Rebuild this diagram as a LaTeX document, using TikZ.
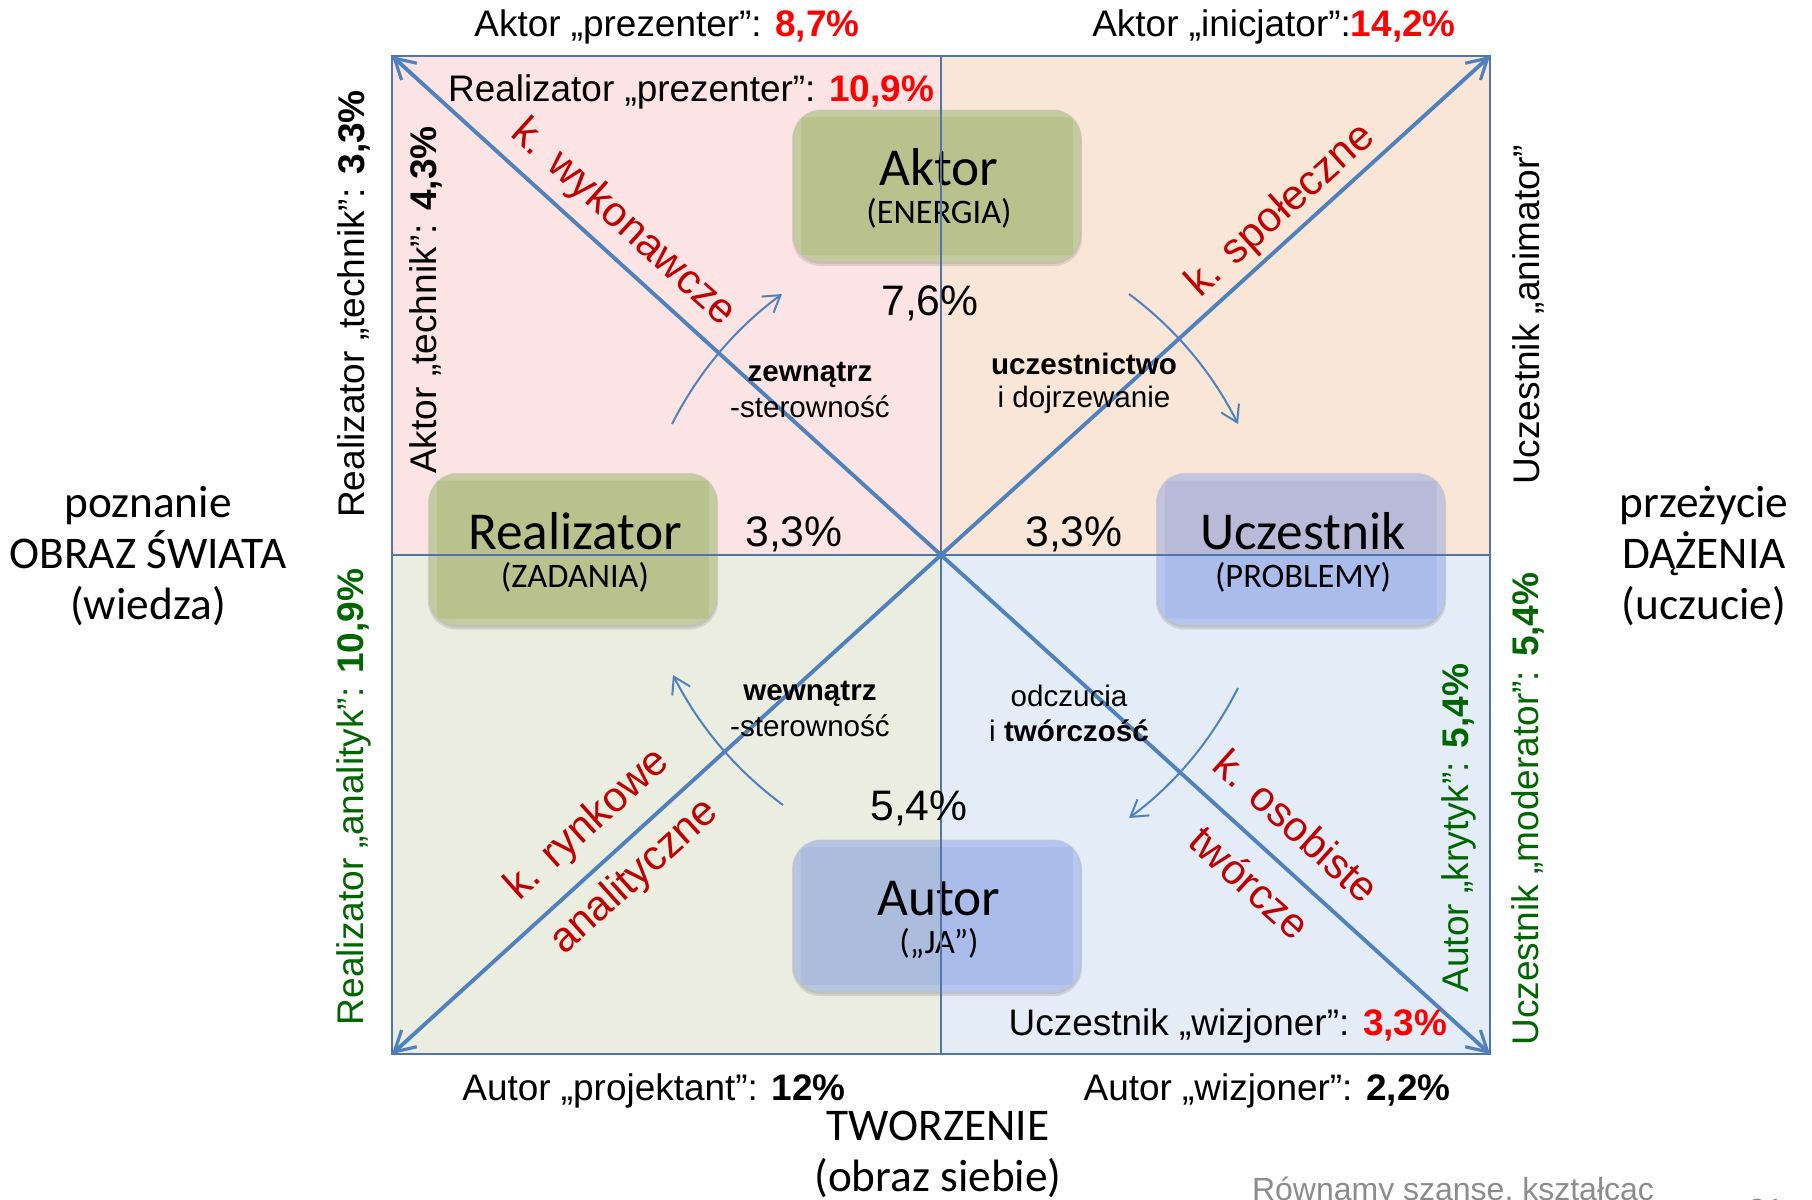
\documentclass[tikz,border=0pt]{standalone}
\usepackage{fontspec}
\setmainfont{Liberation Sans}
\newfontfamily\calfont{Carlito}
\usetikzlibrary{arrows.meta}
\definecolor{qTL}{HTML}{FDE4E4}
\definecolor{qTR}{HTML}{FAE6D7}
\definecolor{qBL}{HTML}{EAEDE0}
\definecolor{qBR}{HTML}{E4ECF7}
\definecolor{frameblue}{HTML}{4F76AA}
\definecolor{diagblue}{HTML}{4F81BD}
\definecolor{kred}{HTML}{C00000}
\definecolor{dgreen}{HTML}{006600}
\definecolor{grn}{HTML}{B9C28D}
\definecolor{blu}{HTML}{A9BCEC}
\definecolor{vio}{HTML}{B8BAD8}
\definecolor{slate}{HTML}{ACBCDC}
\newcommand{\fs}[1]{\fontsize{#1}{#1}\selectfont}
\newcommand{\nudge}{\hspace*{3pt}}
% backing of a box: soft shadow, colour fill, lighter rim; #1,#2 centre; #3 fills
\newcommand{\boxback}[3]{%
  \begin{scope}[shift={(#1,#2)}]
    \fill[black,opacity=0.10,rounded corners=21pt] (-145,-74) rectangle (145,80);
    \fill[black,opacity=0.08,rounded corners=21pt] (-144,-74) rectangle (144,78);
    \clip[rounded corners=21pt] (-144,-76) rectangle (144,76);
    #3
    \fill[white,opacity=0.16,even odd rule] (-150,-80) rectangle (150,80) (-136,-69) rectangle (136,69);
  \end{scope}}
\tikzset{
  x=0.75pt,y=-0.75pt,
  box/.style={rounded corners=21pt,minimum width=216pt,minimum height=114pt,inner sep=0pt,align=center,
    draw=black!25,draw opacity=0.35,line width=1pt,font=\calfont\fs{40}},
  hl/.style={inner sep=0pt,font=\fs{27.7}},
  vl/.style={inner sep=0pt,font=\fs{27.8},rotate=90},
  kl/.style={inner sep=0pt,font=\fs{31.5},text=kred},
  pct/.style={inner sep=0pt,font=\fs{32}},
  sm/.style={inner sep=0pt,font=\fs{22.2}},
  side/.style={inner sep=0pt,font=\calfont\fs{34}},
  frameline/.style={draw=frameblue,line width=1.5pt},
  diag/.style={draw=diagblue,line width=2.9pt,-{Straight Barb[length=15pt,width=17pt,line width=2.4pt]}},
  curve/.style={draw=diagblue,line width=1.5pt,-{Straight Barb[length=12pt,width=15pt,line width=1.5pt]}},
}
\begin{document}
\begin{tikzpicture}
\clip (0,0) rectangle (1812,1199);
\fill[white] (0,0) rectangle (1812,1199);
\coordinate (c) at (941,555);
\coordinate (tl) at (392,56);
\coordinate (tr) at (1490,56);
\coordinate (bl) at (392,1054);
\coordinate (br) at (1490,1054);
\coordinate (tm) at (941,56);
\coordinate (bm) at (941,1054);
\coordinate (lm) at (392,555);
\coordinate (rm) at (1490,555);
% quadrants
\fill[qTL] (tl) rectangle (c);
\fill[qTR] (tm) rectangle (rm);
\fill[qBL] (lm) rectangle (bm);
\fill[qBR] (c) rectangle (br);
% box backings
\boxback{937}{186}{\fill[grn] (-150,-80) rectangle (150,80);}
\boxback{573}{549.5}{\fill[grn] (-150,-80) rectangle (150,80);}
\boxback{1301}{549.5}{\fill[vio] (-150,-80) rectangle (150,5.5);\fill[blu] (-150,5.5) rectangle (150,80);}
\boxback{937}{916}{\fill[slate] (-150,-80) rectangle (4,80);\fill[blu] (4,-80) rectangle (150,80);}
% boxes
\node[box] (aktor) at (937,186) {\nudge\rule{0pt}{32pt}Aktor\\[-11.5pt]\nudge{\fs{25.8}(ENERGIA)}};
\node[box] (real) at (573,549.5) {\nudge\rule{0pt}{32pt}Realizator\\[-11.5pt]\nudge{\fs{25.8}(ZADANIA)}};
\node[box] (ucz) at (1301,549.5) {\nudge\rule{0pt}{32pt}Uczestnik\\[-11.5pt]\nudge{\fs{25.8}(PROBLEMY)}};
\node[box] (autor) at (937,916) {\nudge\rule{0pt}{32pt}Autor\\[-11.5pt]\nudge{\fs{25.8}(„JA”)}};
% frame and axes
\draw[frameline] (tl) rectangle (br);
\draw[frameblue,line width=1.1pt] (tm) -- (bm);
\draw[frameblue,line width=1.1pt] (lm) -- (rm);
\draw[diag] (c) -- (tl);
\draw[diag] (c) -- (tr);
\draw[diag] (c) -- (bl);
\draw[diag] (c) -- (br);
% curved arrows
\coordinate (a1s) at (672,424); \coordinate (a1e) at (782,294);
\coordinate (a2s) at (1129,294); \coordinate (a2e) at (1238,424);
\coordinate (a3s) at (1238,688); \coordinate (a3e) at (1129,818);
\coordinate (a4s) at (783,805); \coordinate (a4e) at (673,675);
\draw[curve] (a1s) .. controls (698.5,372) and (735,328.7) .. (a1e);
\draw[curve] (a2s) .. controls (1175.5,328.7) and (1211.9,372) .. (a2e);
\draw[curve] (a3s) .. controls (1211.5,740) and (1175.9,783.3) .. (a3e);
\draw[curve] (a4s) .. controls (736.1,770.3) and (699.5,727) .. (a4e);
% top / bottom labels
\node[hl] (t1) at (667,27) {Aktor „prezenter”: \textbf{\color{red}8,7\%}};
\node[hl] (t2) at (1274,27) {Aktor „inicjator”:\textbf{\color{red}14,2\%}};
\node[hl] (t3) at (691,92) {Realizator „prezenter”: \textbf{\color{red}10,9\%}};
\node[hl] (b1) at (654,1091) {Autor „projektant”: \textbf{12\%}};
\node[hl] (b2) at (1267,1091) {Autor „wizjoner”: \textbf{2,2\%}};
\node[hl] (b3) at (1228,1026) {Uczestnik „wizjoner”: \textbf{\color{red}3,3\%}};
% vertical labels
\node[vl] (v1) at (354,304) {Realizator „technik”: \textbf{3,3\%}};
\node[vl] (v2) at (426,300) {Aktor „technik”: \textbf{4,3\%}};
\node[vl,text=dgreen] (v3) at (354,797) {Realizator „analityk”: \textbf{10,9\%}};
\node[vl] (v4) at (1528,315) {Uczestnik „animator”};
\node[vl,text=dgreen] (v5) at (1528,809) {Uczestnik „moderator”: \textbf{5,4\%}};
\node[vl,text=dgreen] (v6) at (1459,828) {Autor „krytyk”: \textbf{5,4\%}};
% k. labels
\node[kl,rotate=-42] (k1) at (623,223) {k. wykonawcze};
\node[kl,rotate=42] (k2) at (1281,211) {k. społeczne};
\node[kl,rotate=42] (k3) at (588,825) {k. rynkowe};
\node[kl,rotate=42] (k4) at (635,877) {analityczne};
\node[kl,rotate=-42] (k5) at (1297,826) {k. osobiste};
\node[kl,rotate=-42] (k6) at (1250,882) {twórcze};
% percentages
\node[pct] (p1) at (930,303) {7,6\%};
\node[pct] (p2) at (794,534) {3,3\%};
\node[pct] (p3) at (1074,534) {3,3\%};
\node[pct] (p4) at (919,808) {5,4\%};
% small
\node[sm] (s1) at (810,375) {\textbf{zewnątrz}};
\node[sm] (s2) at (810,407) {-sterowność};
\node[sm] (s3) at (1084,364) {\textbf{uczestnictwo}};
\node[sm] (s4) at (1084,400) {i dojrzewanie};
\node[sm] (s5) at (810,694) {\textbf{wewnątrz}};
\node[sm] (s6) at (810,726) {-sterowność};
\node[sm] (s7) at (1069,696) {odczucia};
\node[sm] (s8) at (1069,731) {i \textbf{twórczość}};
% sides
\node[side,align=center] (left) at (148,556) {poznanie\\[4.3pt]OBRAZ ŚWIATA\\[4.3pt](wiedza)};
\node[side,align=center] (right) at (1704,556) {przeżycie\\[4.3pt]DĄŻENIA\\[4.3pt](uczucie)};
\node[side,align=center] (bottom) at (938,1154) {TWORZENIE\\[4.3pt](obraz siebie)};
\node[inner sep=0pt,font=\fs{24},text=black!45] (foot) at (1453,1192) {Równamy szanse, kształcąc};
\node[inner sep=0pt,font=\fs{24},text=black!45] (pageno) at (1766,1210) {21};
\end{tikzpicture}
\end{document}
